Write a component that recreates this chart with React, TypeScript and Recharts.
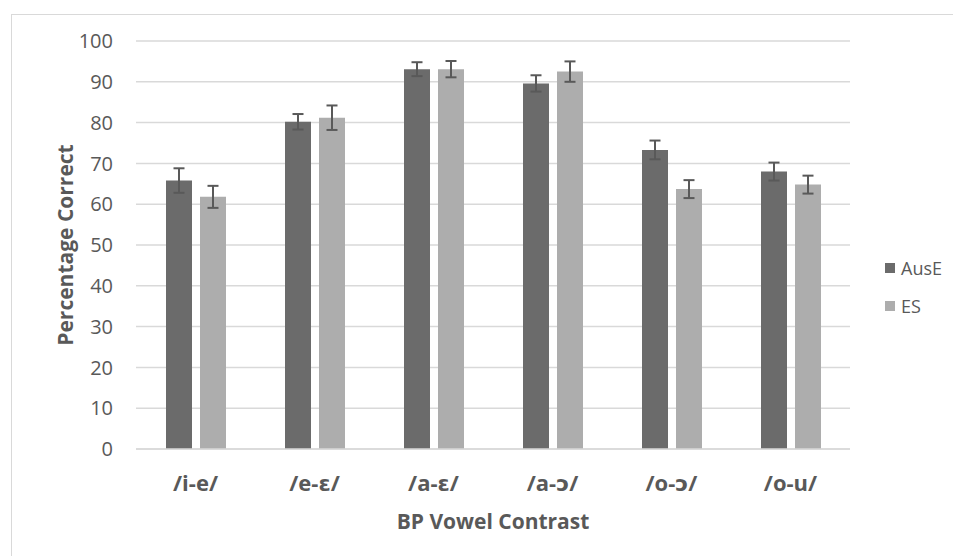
import { Bar, BarChart, CartesianGrid, ErrorBar, XAxis, YAxis } from 'recharts';

const contrasts = ['/i-e/', '/e-ɛ/', '/a-ɛ/', '/a-ɔ/', '/o-ɔ/', '/o-u/'];
const ausE = [65.8, 80.2, 93.1, 89.6, 73.3, 68.0];
const ausEErr = [3.0, 1.9, 1.7, 2.0, 2.3, 2.2];
const es = [61.8, 81.2, 93.1, 92.5, 63.7, 64.8];
const esErr = [2.7, 3.0, 2.0, 2.5, 2.2, 2.2];
const yTicks = [0, 10, 20, 30, 40, 50, 60, 70, 80, 90, 100];

const data = contrasts.map((name, i) => ({
  name,
  AusE: ausE[i],
  ausEErr: ausEErr[i],
  ES: es[i],
  esErr: esErr[i],
}));

const font = '"Open Sans", "DejaVu Sans", sans-serif';
const textGray = '#595959';
const DARK = '#6b6b6b';
const LIGHT = '#adadad';

const legendItems = [
  { label: 'AusE', color: DARK },
  { label: 'ES', color: LIGHT },
];

const App = () => {
  return (
    <div
      style={{
        position: 'fixed',
        left: 0,
        top: 0,
        width: 953,
        height: 556,
        overflow: 'hidden',
        background: '#fff',
      }}
    >
      <div
        style={{
          position: 'absolute',
          left: 11,
          top: 14,
          width: 1000,
          height: 600,
          border: '1.5px solid #d9d9d9',
        }}
      />
      <div style={{ position: 'absolute', left: 0, top: 0 }}>
        <BarChart
          width={953}
          height={556}
          data={data}
          margin={{ top: 41, right: 103, left: 76, bottom: 77 }}
          barGap={8}
          barSize={26}
        >
          <CartesianGrid vertical={false} stroke='#d9d9d9' strokeWidth={1.5} />
          <XAxis
            dataKey='name'
            height={30}
            axisLine={{ stroke: '#d9d9d9', strokeWidth: 1.5 }}
            tickLine={false}
            tickSize={0}
            tickMargin={26}
            tick={{ fill: textGray, fontSize: 22, fontWeight: 700, fontFamily: font }}
            label={{
              content: ({ viewBox }: any) => (
                <text
                  x={viewBox.x + viewBox.width / 2}
                  y={viewBox.y + 72}
                  textAnchor='middle'
                  dominantBaseline='central'
                  fill={textGray}
                  fontSize={21}
                  fontWeight={700}
                  fontFamily={font}
                >
                  BP Vowel Contrast
                </text>
              ),
            }}
          />
          <YAxis
            width={60}
            domain={[0, 100]}
            ticks={yTicks}
            axisLine={false}
            tickLine={false}
            tickSize={0}
            tickMargin={23}
            tick={{ fill: textGray, fontSize: 20, fontFamily: font }}
            label={{
              content: ({ viewBox }: any) => {
                const cx = viewBox.x - 11;
                const cy = viewBox.y + viewBox.height / 2;
                return (
                  <text
                    x={cx}
                    y={cy}
                    transform={`rotate(-90 ${cx} ${cy})`}
                    textAnchor='middle'
                    dominantBaseline='central'
                    fill={textGray}
                    fontSize={21}
                    fontWeight={700}
                    fontFamily={font}
                  >
                    Percentage Correct
                  </text>
                );
              },
            }}
          />
          <Bar dataKey='AusE' fill={DARK} isAnimationActive={false}>
            <ErrorBar dataKey='ausEErr' width={5.5} stroke='#595959' strokeWidth={2} />
          </Bar>
          <Bar dataKey='ES' fill={LIGHT} isAnimationActive={false}>
            <ErrorBar dataKey='esErr' width={5.5} stroke='#595959' strokeWidth={2} />
          </Bar>
        </BarChart>
      </div>
      <div
        style={{
          position: 'absolute',
          left: 885,
          top: 256,
          fontFamily: font,
          fontSize: 18,
          color: textGray,
        }}
      >
        {legendItems.map((item, i) => (
          <div
            key={item.label}
            style={{ display: 'flex', alignItems: 'center', height: 24, marginTop: i ? 14 : 0 }}
          >
            <span style={{ width: 10, height: 10, background: item.color, marginRight: 6 }} />
            <span>{item.label}</span>
          </div>
        ))}
      </div>
    </div>
  );
};

export default App;
